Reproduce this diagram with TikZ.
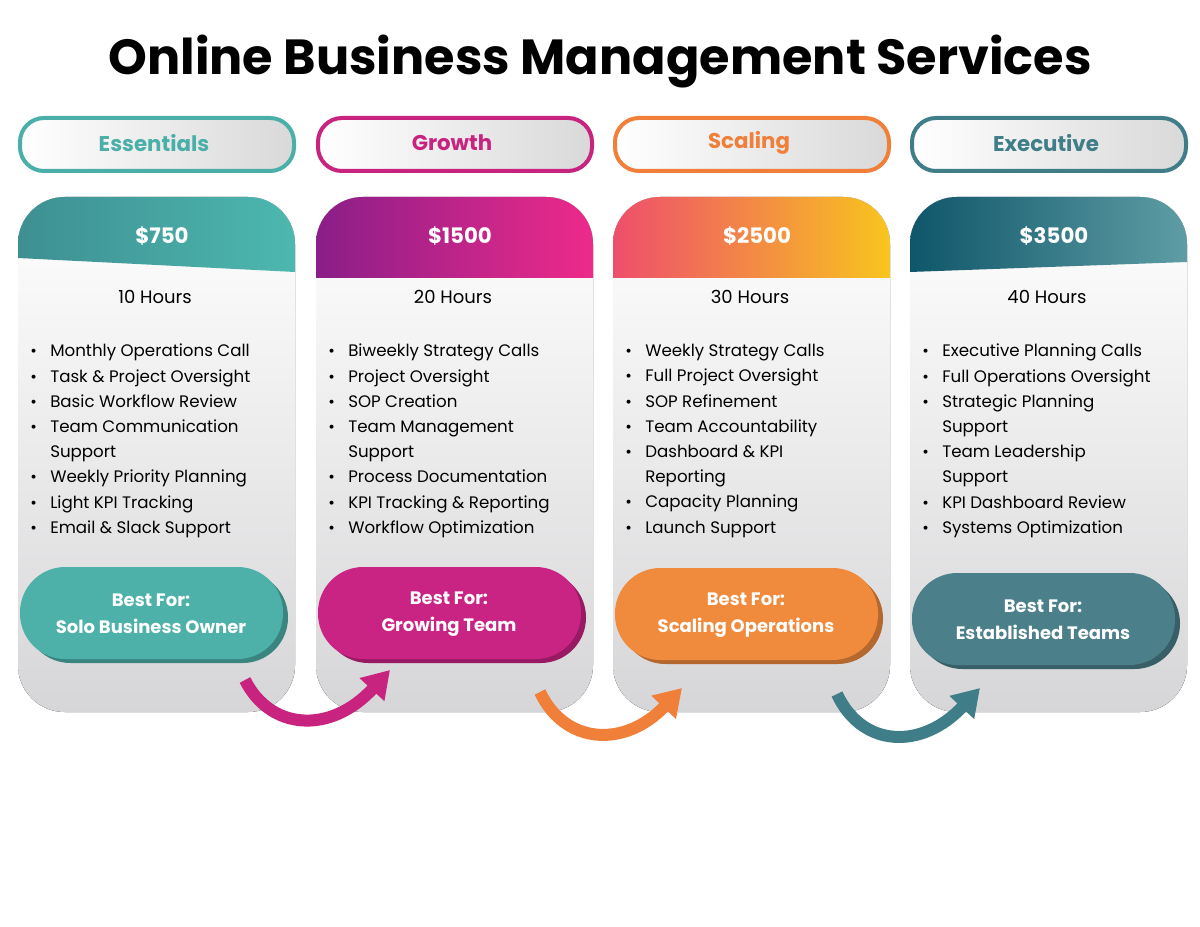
\documentclass[tikz,border=0pt]{standalone}
\usepackage{fontspec}
\setmainfont{Poppins}
\usetikzlibrary{arrows.meta,positioning,calc}

\definecolor{essA}{HTML}{3E8F92}
\definecolor{essB}{HTML}{4DB8AF}
\definecolor{groA}{HTML}{8A1E88}
\definecolor{groB}{HTML}{EE2A8A}
\definecolor{scaA}{HTML}{EE4E6C}
\definecolor{scaB}{HTML}{F8C51E}
\definecolor{exeA}{HTML}{0F566A}
\definecolor{exeB}{HTML}{5E9DA4}
\definecolor{essT}{HTML}{4AAFA8}
\definecolor{groT}{HTML}{C8237F}
\definecolor{scaT}{HTML}{F07F3A}
\definecolor{exeT}{HTML}{3F7E88}
\definecolor{essF}{HTML}{4DB1AA}
\definecolor{groF}{HTML}{C92384}
\definecolor{scaF}{HTML}{F08A3C}
\definecolor{exeF}{HTML}{4B7F8A}
\definecolor{cardgray}{HTML}{D6D6D8}

\newcommand{\bl}{\makebox[15pt][l]{\large\textbullet}}
\newcommand{\ind}{\hspace*{15pt}}
\newcommand{\listEss}{\bl Monthly Operations Call\\ \bl Task \& Project Oversight\\ \bl Basic Workflow Review\\ \bl Team Communication\\ \ind Support\\ \bl Weekly Priority Planning\\ \bl Light KPI Tracking\\ \bl Email \& Slack Support}
\newcommand{\listGro}{\bl Biweekly Strategy Calls\\ \bl Project Oversight\\ \bl SOP Creation\\ \bl Team Management\\ \ind Support\\ \bl Process Documentation\\ \bl KPI Tracking \& Reporting\\ \bl Workflow Optimization}
\newcommand{\listSca}{\bl Weekly Strategy Calls\\ \bl Full Project Oversight\\ \bl SOP Refinement\\ \bl Team Accountability\\ \bl Dashboard \& KPI\\ \ind Reporting\\ \bl Capacity Planning\\ \bl Launch Support}
\newcommand{\listExe}{\bl Executive Planning Calls\\ \bl Full Operations Oversight\\ \bl Strategic Planning\\ \ind Support\\ \bl Team Leadership\\ \ind Support\\ \bl KPI Dashboard Review\\ \bl Systems Optimization}

\begin{document}
\begin{tikzpicture}[x=0.75pt,y=-0.75pt,
  title/.style={font=\fontsize{37}{40}\selectfont\bfseries},
  tabtext/.style={font=\fontsize{16}{18}\selectfont\bfseries},
  price/.style={font=\fontsize{16}{18}\selectfont\bfseries,text=white},
  hours/.style={font=\fontsize{13.5}{15}\selectfont},
  features/.style={font=\fontsize{12.5}{18.9}\selectfont,align=left,anchor=north west,inner sep=0pt},
  bestfor/.style={font=\fontsize{13.5}{20}\selectfont\bfseries,text=white,align=center},
  swoosh/.style={line width=9pt,-{Triangle[length=20pt,width=24pt]}}]
\useasboundingbox (0,0) rectangle (1200,927);

\node[title] (title) at (600,62) {Online Business Management Services};

% cards
\foreach \x/\name/\ca/\cb/\ct/\cf/\yl/\yr/\price/\hrs/\items/\by/\who [count=\i] in {
  18/Essentials/essA/essB/essT/essF/258/272/750/10/\listEss/567/Solo Business Owner,
  316/Growth/groA/groB/groT/groF/278/278/1500/20/\listGro/567/Growing Team,
  613/Scaling/scaA/scaB/scaT/scaF/278/278/2500/30/\listSca/568/Scaling Operations,
  910/Executive/exeA/exeB/exeT/exeF/272/262/3500/40/\listExe/573/Established Teams}{
  \fill[top color=white,bottom color=cardgray,rounded corners=35]
    (\x,197) rectangle (\x+277,712);
  \begin{scope}
    \clip[rounded corners=35] (\x,197) rectangle (\x+277,712);
    \shade[left color=\ca,right color=\cb]
      (\x,190) -- (\x+277,190) -- (\x+277,\yr) -- (\x,\yl) -- cycle;
  \end{scope}
  \draw[line width=3pt,draw=\ct,left color=white,right color=gray!30,rounded corners=18]
    (\x+2,118) rectangle (\x+276,171);
  \node[tabtext,text=\ct] (tab\i) at (\x+136,143) {\name};
  \node[price] (price\i) at (\x+144,236) {\$\price};
  \node[hours] (hours\i) at (\x+137,297) {\hrs\ Hours};
  \node[features] (list\i) at (\x+12,344) {\items};
  \fill[\cf!75!black,rounded corners=34] (\x+7,\by+5) rectangle (\x+270,\by+96);
  \fill[\cf,rounded corners=34] (\x+2,\by) rectangle (\x+265,\by+92);
  \node[bestfor] (best\i) at (\x+133,\by+47) {Best For:\\ \who};
}

% arrows between cards
\coordinate (s1) at (245,680);
\coordinate (e1) at (390,670);
\coordinate (s2) at (540,692);
\coordinate (e2) at (682,688);
\coordinate (s3) at (837,694);
\coordinate (e3) at (980,688);
\draw[swoosh,groT] (s1) .. controls (270,730) and (330,735) .. (e1);
\draw[swoosh,scaT] (s2) .. controls (565,745) and (625,748) .. (e2);
\draw[swoosh,exeT] (s3) .. controls (862,748) and (922,750) .. (e3);
\end{tikzpicture}
\end{document}
